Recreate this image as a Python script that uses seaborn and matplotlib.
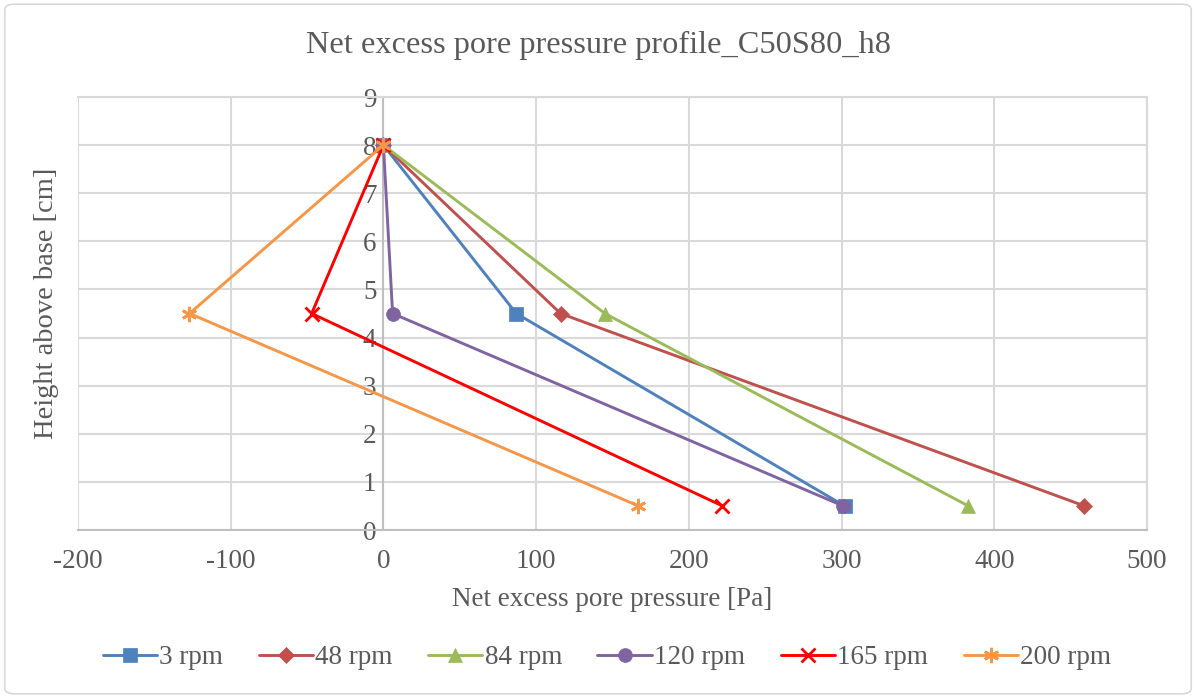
import matplotlib
matplotlib.use("Agg")
import matplotlib.pyplot as plt
import seaborn as sns
import pandas as pd
from matplotlib.patches import FancyBboxPatch

# Data
heights = [8, 4.5, 0.5]
series_names = ["3 rpm", "48 rpm", "84 rpm", "120 rpm", "165 rpm", "200 rpm"]
p_3 = [0, 87, 302]
p_48 = [0, 116, 459]
p_84 = [0, 145, 383]
p_120 = [0, 6, 301]
p_165 = [0, -47, 222]
p_200 = [0, -127, 167]
pressures = [p_3, p_48, p_84, p_120, p_165, p_200]

x_ticks = [-200, -100, 0, 100, 200, 300, 400, 500]
y_ticks = [0, 1, 2, 3, 4, 5, 6, 7, 8, 9]

colors = ["#4F81BD", "#C0504D", "#9BBB59", "#8064A2", "#FF0000", "#F79646"]
markers = ["s", "D", "^", "o", "x", (6, 2, 0)]
msizes = [10, 8, 10, 10, 10, 11]

sns.set_theme(style="white")
plt.rcParams["font.family"] = ["Liberation Serif", "DejaVu Serif"]
plt.rcParams["axes.unicode_minus"] = False

fig = plt.figure(figsize=(11.96, 6.98), dpi=100)
ax = fig.add_axes([78/1196, 1 - 530/698, (1147-78)/1196, (530-97)/698])

for name, px, c, m, ms in zip(series_names, pressures, colors, markers, msizes):
    df = pd.DataFrame({"x": px, "y": heights})
    sns.lineplot(data=df, x="x", y="y", sort=False, estimator=None, ax=ax,
                 color=c, marker=m, markersize=ms, linewidth=2.1,
                 markeredgecolor=c, markeredgewidth=2 if m in ("x", (6, 2, 0)) else 0.5,
                 label=name, zorder=3)

ax.set_xlim(-200, 500)
ax.set_ylim(0, 9)
ax.set_xticks(x_ticks)
ax.set_yticks(y_ticks)
ax.grid(True, color="#D9D9D9", linewidth=1.5)
ax.set_axisbelow(True)

for s in ["top", "right"]:
    ax.spines[s].set_visible(True)
    ax.spines[s].set_color("#D9D9D9")
    ax.spines[s].set_linewidth(1.5)
ax.spines["left"].set_position(("data", 0))
ax.spines["left"].set_color("#BFBFBF")
ax.spines["left"].set_linewidth(1.5)
ax.spines["bottom"].set_color("#BFBFBF")
ax.spines["bottom"].set_linewidth(1.5)

ax.tick_params(axis="both", length=0, labelsize=19.5, labelcolor="#595959")
ax.tick_params(axis="x", pad=14)
ax.tick_params(axis="y", pad=5)

ax.set_xlabel("Net excess pore pressure [Pa]", fontsize=19.5, color="#595959")
ax.xaxis.set_label_coords(0.5, -(600 - 530) / (530 - 97), transform=ax.transAxes)
ax.xaxis.label.set_va("center")
ax.set_ylabel("Height above base [cm]", fontsize=20.5, color="#595959")
ax.yaxis.set_label_coords((47 - 78) / (1147 - 78), (530 - 303) / (530 - 97))
ax.yaxis.label.set_va("center")

fig.suptitle("Net excess pore pressure profile_C50S80_h8", fontsize=23.3, color="#595959",
             y=1 - 45/698, va="center")

ax.legend(loc="center", bbox_to_anchor=(607/1196, 1 - 658/698), bbox_transform=fig.transFigure,
          ncol=6, frameon=False, fontsize=19.5, labelcolor="#595959", handlelength=2.0,
          columnspacing=1.3, handletextpad=0.1)

border = FancyBboxPatch((0.004, 0.006), 0.992, 0.988, boxstyle="round,pad=0,rounding_size=0.008",
                        transform=fig.transFigure, facecolor="none", edgecolor="#D9D9D9", linewidth=1.2)
fig.patches.append(border)

fig.savefig("out.png", dpi=100)
